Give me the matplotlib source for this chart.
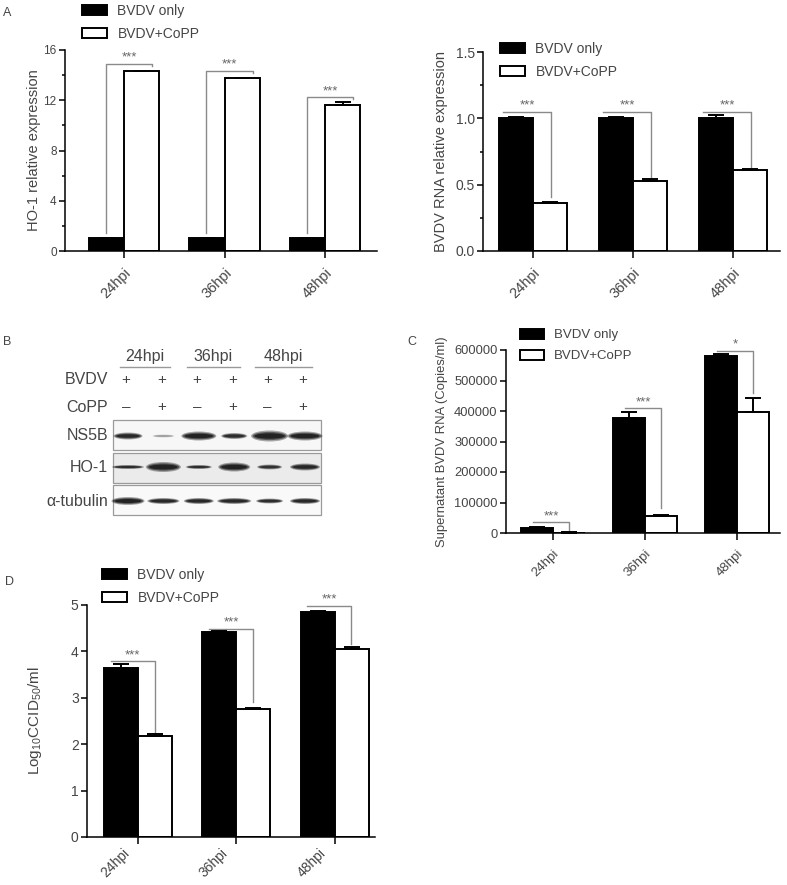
import numpy as np
import matplotlib
matplotlib.use('Agg')
import matplotlib.pyplot as plt
import matplotlib.transforms as mtransforms
from matplotlib.patches import Rectangle, Ellipse
from matplotlib.ticker import MultipleLocator

plt.rcParams['font.family'] = ['Liberation Sans', 'DejaVu Sans']
plt.rcParams['mathtext.default'] = 'regular'

W, H = 787, 885
TXT = '#454545'

groups = ['24hpi', '36hpi', '48hpi']
series = ['BVDV only', 'BVDV+CoPP']

# A (left): HO-1 mRNA
ho1_only = [1.0, 1.0, 1.0]
ho1_only_err = [0.03, 0.03, 0.03]
ho1_copp = [14.3, 13.75, 11.65]
ho1_copp_err = [0.06, 0.06, 0.2]
ho1_brackets = [(14.9, 1.4, 14.7), (14.35, 1.4, 14.2), (12.25, 1.4, 12.1)]

# A (right): BVDV RNA
rna_only = [1.0, 1.0, 1.0]
rna_only_err = [0.012, 0.012, 0.025]
rna_copp = [0.36, 0.53, 0.61]
rna_copp_err = [0.012, 0.012, 0.01]
rna_brackets = [(1.05, 1.05, 0.41), (1.05, 1.05, 0.55), (1.05, 1.05, 0.635)]

# C: supernatant copies
sup_only = [17000, 378000, 580000]
sup_only_err = [3000, 18000, 7000]
sup_copp = [1500, 57000, 398000]
sup_copp_err = [300, 2000, 45000]
sup_brackets = [(36000, 36000, 3000), (409000, 409000, 81000), (598000, 598000, 458000)]
sup_stars = ['***', '***', '*']

# D: titer
tcid_only = [3.65, 4.42, 4.85]
tcid_only_err = [0.07, 0.02, 0.03]
tcid_copp = [2.18, 2.75, 4.05]
tcid_copp_err = [0.04, 0.03, 0.04]
tcid_brackets = [(3.79, 3.79, 2.27), (4.49, 4.49, 2.92), (4.98, 4.98, 4.17)]

# B: western blot band strength / size per lane
blot_rows = ['NS5B', 'HO-1', 'α-tubulin']
band_w = [[29, 22, 35, 26, 37, 35], [32, 35, 26, 32, 25, 30], [33, 32, 30, 34, 27, 30]]
band_h = [[7, 3, 9, 6, 11, 9], [4, 10, 4, 9, 5, 7], [8, 6, 6, 6, 5, 6]]
band_i = [[0.95, 0.3, 1, 0.9, 1, 1], [0.9, 1, 0.9, 1, 0.85, 0.95], [1, 0.95, 0.95, 0.95, 0.9, 0.95]]
bvdv_signs = ['+', '+', '+', '+', '+', '+']
copp_signs = ['–', '+', '–', '+', '–', '+']


def px_rect(x0, y0, x1, y1):
    return [x0 / W, 1 - y1 / H, (x1 - x0) / W, (y1 - y0) / H]


def bar_panel(fig, box, only, only_err, copp, copp_err, ylim, ystep, ylabel,
              xlim, w, brackets, bl, br, stars, leg, sizes, ylab_x, minor=None,
              xlab_shift=None):
    x0, y0, x1, y1 = box
    ax = fig.add_axes(px_rect(x0, y0, x1, y1))
    x = np.arange(len(groups))
    ax.bar(x - w / 2, only, w, color='black', edgecolor='black', linewidth=1.4,
           label=series[0], zorder=2)
    ax.bar(x + w / 2, copp, w, color='white', edgecolor='black', linewidth=1.4,
           label=series[1], zorder=2)
    z = np.zeros(len(x))
    ax.errorbar(x - w / 2, only, yerr=[z, only_err], fmt='none', ecolor='black',
                elinewidth=1.4, capsize=6, capthick=1.4, zorder=3)
    ax.errorbar(x + w / 2, copp, yerr=[z, copp_err], fmt='none', ecolor='black',
                elinewidth=1.4, capsize=6, capthick=1.4, zorder=3)

    for i, (yb, yl, yr) in enumerate(brackets):
        ax.plot([i + bl, i + bl, i + br, i + br], [yl, yb, yb, yr],
                color='#8a8a8a', lw=1.0, zorder=1)
        ax.text(i + (bl + br) / 2, yb, stars[i], ha='center', va='bottom',
                fontsize=9.5, color='#666666')

    ytick_fs, xtick_fs, ylab_fs, leg_fs = sizes
    ax.set_xlim(xlim)
    ax.set_ylim(ylim)
    ax.yaxis.set_major_locator(MultipleLocator(ystep))
    if minor:
        ax.yaxis.set_minor_locator(MultipleLocator(minor))
    ax.set_xticks(x)
    if xlab_shift is None:
        ax.set_xticklabels(groups, rotation=45, ha='right', rotation_mode='anchor',
                           fontsize=xtick_fs)
    else:
        # labels sit left of their ticks in this panel
        ax.set_xticklabels([])
        dx, dy = xlab_shift
        off = mtransforms.ScaledTranslation(dx / 100, -dy / 100, fig.dpi_scale_trans)
        tr = mtransforms.blended_transform_factory(ax.transData, ax.transAxes) + off
        for xi, g in zip(x, groups):
            ax.text(xi, 0, g, transform=tr, rotation=45, ha='right', va='top',
                    rotation_mode='anchor', fontsize=xtick_fs, color=TXT)
    ax.spines['top'].set_visible(False)
    ax.spines['right'].set_visible(False)
    ax.spines['left'].set_linewidth(1.1)
    ax.spines['bottom'].set_linewidth(1.1)
    ax.tick_params(axis='both', which='major', labelcolor=TXT, width=1.1)
    ax.tick_params(axis='y', which='major', length=4, labelsize=ytick_fs, pad=2)
    ax.tick_params(axis='y', which='minor', length=2.5, width=1.1)
    ax.tick_params(axis='x', length=5, pad=5.5)
    ax.set_ylabel(ylabel, fontsize=ylab_fs, color=TXT)
    ax.yaxis.set_label_coords((ylab_x - x0) / (x1 - x0), 0.5)

    lx, ly = leg
    ax.legend(loc='upper left', bbox_to_anchor=(lx / W, 1 - ly / H),
              bbox_transform=fig.transFigure, frameon=False, borderpad=0,
              borderaxespad=0, fontsize=leg_fs, handlelength=1.8, handleheight=0.75,
              handletextpad=0.75, labelspacing=0.65, labelcolor=TXT)
    return ax


fig = plt.figure(figsize=(W / 100, H / 100), dpi=100)

# western blot drawn in pixel space
bx = fig.add_axes([0, 0, 1, 1])
bx.set_xlim(0, W)
bx.set_ylim(H, 0)
bx.axis('off')

lane_x = 126 + 35.4 * np.arange(6)
for label, xa, xb in zip(groups, [120, 187, 255], [170, 240, 312]):
    bx.text((xa + xb) / 2, 357, label, ha='center', va='center', fontsize=11.5, color=TXT)
    bx.plot([xa, xb], [367, 367], color='#999999', lw=1)
bx.text(108, 380, 'BVDV', ha='right', va='center', fontsize=11.5, color=TXT)
bx.text(108, 407, 'CoPP', ha='right', va='center', fontsize=11.5, color=TXT)
for xl, s1, s2 in zip(lane_x, bvdv_signs, copp_signs):
    bx.text(xl, 380, s1, ha='center', va='center', fontsize=11, color=TXT)
    bx.text(xl, 407, s2, ha='center', va='center', fontsize=11, color=TXT)

row_y = [436, 467, 501]
box_y = [(420, 450), (453, 483), (485, 515)]
box_fill = ['#f7f7f7', '#ebebeb', '#f9f9f9']
for r, name in enumerate(blot_rows):
    ya, yb = box_y[r]
    bx.add_patch(Rectangle((113, ya), 208, yb - ya, facecolor=box_fill[r],
                           edgecolor='#9a9a9a', lw=0.9))
    bx.text(108, row_y[r], name, ha='right', va='center', fontsize=11.5, color=TXT)
    for j in range(6):
        cx = lane_x[j] + 2
        for sx, sy, a in [(1.0, 1.0, 0.35), (0.92, 0.75, 0.5), (0.82, 0.5, 0.75)]:
            bx.add_patch(Ellipse((cx, row_y[r]), band_w[r][j] * sx, band_h[r][j] * sy,
                                 facecolor='#111111', edgecolor='none',
                                 alpha=a * band_i[r][j]))

for letter, (x, y) in zip('ABCD', [(3, 13), (3, 342), (407, 342), (5, 582)]):
    fig.text(x / W, 1 - y / H, letter, ha='left', va='center', fontsize=9, color=TXT)

bar_panel(fig, (65, 50, 377, 251), ho1_only, ho1_only_err, ho1_copp, ho1_copp_err,
          (0, 16), 4, 'HO-1 relative expression', (-0.587, 2.517), 0.35,
          ho1_brackets, -0.18, 0.28, ['***'] * 3, (82, 4),
          (8.5, 10.5, 10.5, 10), 41, minor=2)

bar_panel(fig, (483, 52, 780, 251), rna_only, rna_only_err, rna_copp, rna_copp_err,
          (0, 1.5), 0.5, 'BVDV RNA relative expression', (-0.5, 2.47), 0.34,
          rna_brackets, -0.30, 0.18, ['***'] * 3, (500, 42),
          (10, 10.5, 10.5, 10), 448, minor=0.25)

axc = bar_panel(fig, (506, 350, 780, 533), sup_only, sup_only_err, sup_copp, sup_copp_err,
                (0, 600000), 100000, 'Supernatant BVDV RNA (Copies/ml)', (-0.51, 2.47), 0.35,
                sup_brackets, -0.22, 0.18, sup_stars, (520, 329),
                (9.3, 9.5, 9.4, 9.5), 448.5)
axc.ticklabel_format(style='plain', axis='y')

bar_panel(fig, (87, 605, 375, 837), tcid_only, tcid_only_err, tcid_copp, tcid_copp_err,
          (0, 5), 1, r'Log$_{10}$CCID$_{50}$/ml', (-0.52, 2.41), 0.345,
          tcid_brackets, -0.28, 0.17, ['***'] * 3, (102, 568),
          (10, 10, 11, 10), 44, xlab_shift=(-16, 9))

fig.savefig('out.png', dpi=100)
